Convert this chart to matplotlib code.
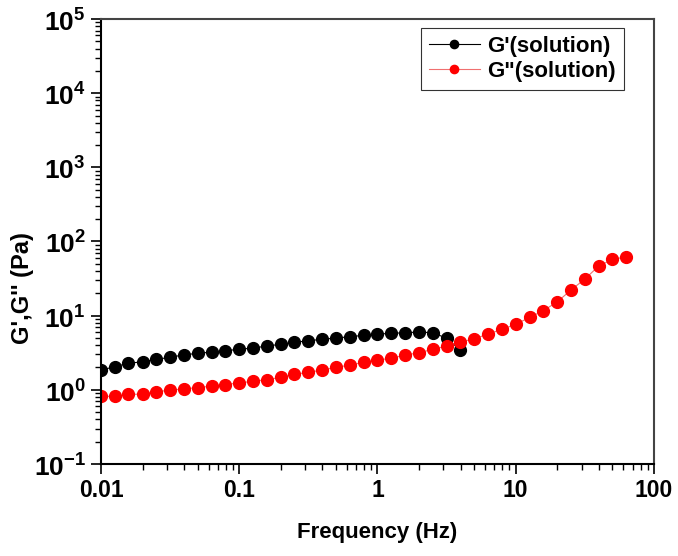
import numpy as np
import matplotlib.pyplot as plt
from matplotlib.ticker import LogLocator, NullFormatter, FixedLocator

plt.rcParams['font.family'] = ['Liberation Sans', 'DejaVu Sans']
plt.rcParams['font.weight'] = 'bold'
plt.rcParams['mathtext.fontset'] = 'custom'
plt.rcParams['mathtext.rm'] = 'Liberation Sans:bold'
plt.rcParams['mathtext.bf'] = 'Liberation Sans:bold'

"""Data read off the reference"""
freq = [0.01, 0.0126, 0.0158, 0.02, 0.0251, 0.0316, 0.0398, 0.0501, 0.0631, 0.0794,
        0.1, 0.126, 0.158, 0.2, 0.251, 0.316, 0.398, 0.501, 0.631, 0.794,
        1.0, 1.26, 1.58, 2.0, 2.51, 3.16, 3.98, 5.01, 6.31, 7.94,
        10.0, 12.6, 15.8, 20.0, 25.1, 31.6, 39.8, 50.1, 63.1]

g_storage = [1.85, 2.05, 2.28, 2.39, 2.58, 2.74, 2.97, 3.10, 3.23, 3.37,
             3.52, 3.66, 3.89, 4.12, 4.37, 4.59, 4.80, 4.99, 5.20, 5.43,
             5.65, 5.77, 5.89, 6.01, 5.89, 4.97, 3.44]

g_loss = [0.817, 0.817, 0.865, 0.877, 0.948, 0.984, 1.035, 1.067, 1.125, 1.178,
          1.242, 1.303, 1.371, 1.472, 1.618, 1.722, 1.849, 2.009, 2.158, 2.350,
          2.523, 2.661, 2.944, 3.162, 3.516, 3.890, 4.406, 4.875, 5.649, 6.531,
          7.638, 9.48, 11.64, 15.38, 22.13, 31.12, 46.56, 57.41, 62.23]

x_ticks = [0.01, 0.1, 1, 10, 100]
x_tick_labels = ["0.01", "0.1", "1", "10", "100"]
y_ticks = [0.1, 1, 10, 100, 1000, 10000, 100000]
y_tick_labels = [r"$10^{-1}$", r"$10^{0}$", r"$10^{1}$", r"$10^{2}$",
                 r"$10^{3}$", r"$10^{4}$", r"$10^{5}$"]

fig = plt.figure(figsize=(6.78, 5.56), dpi=100)
ax = fig.add_axes([0.149, 0.1655, 0.8155, 0.8003])

ax.plot(freq[:len(g_storage)], g_storage, color='black', lw=0.8,
        marker='o', markersize=8.5, markerfacecolor='black',
        markeredgecolor='black', label="G'(solution)")
ax.plot(freq, g_loss, color='#f07070', lw=0.8,
        marker='o', markersize=8.5, markerfacecolor='red',
        markeredgecolor='red', label='G"(solution)')

ax.set_xscale('log')
ax.set_yscale('log')
ax.set_xlim(0.01, 100)
ax.set_ylim(0.1, 1e5)

ax.xaxis.set_major_locator(FixedLocator(x_ticks))
ax.set_xticklabels(x_tick_labels)
ax.yaxis.set_major_locator(FixedLocator(y_ticks))
ax.set_yticklabels(y_tick_labels)
ax.xaxis.set_minor_locator(LogLocator(base=10, subs=np.arange(2, 10), numticks=20))
ax.yaxis.set_minor_locator(LogLocator(base=10, subs=np.arange(2, 10), numticks=20))
ax.xaxis.set_minor_formatter(NullFormatter())
ax.yaxis.set_minor_formatter(NullFormatter())

ax.tick_params(which='major', direction='out', length=7, width=1.2, pad=4)
ax.tick_params(axis='x', which='major', labelsize=16.5)
ax.tick_params(axis='y', which='major', labelsize=19)
ax.tick_params(which='minor', direction='out', length=4, width=1.0)
ax.tick_params(top=False, right=False, which='both')

for side in ['left', 'bottom']:
    ax.spines[side].set_linewidth(1.5)
    ax.spines[side].set_color('black')
for side in ['top', 'right']:
    ax.spines[side].set_linewidth(1.5)
    ax.spines[side].set_color('#444444')

ax.set_xlabel("Frequency (Hz)", fontsize=16, fontweight='bold', labelpad=14)
ax.set_ylabel("G',G'' (Pa)", fontsize=17, fontweight='bold')
ax.yaxis.set_label_coords(-0.122, 0.395)

leg = ax.legend(loc='upper right', fontsize=16, frameon=True, fancybox=False,
                edgecolor='black', borderpad=0.35, handlelength=2.3,
                handletextpad=0.35, labelspacing=0.2, markerscale=0.7,
                borderaxespad=0, bbox_to_anchor=(0.9458, 0.9798))
leg.get_frame().set_linewidth(0.8)
for t in leg.get_texts():
    t.set_fontweight('bold')

fig.savefig('out.png', dpi=100)
